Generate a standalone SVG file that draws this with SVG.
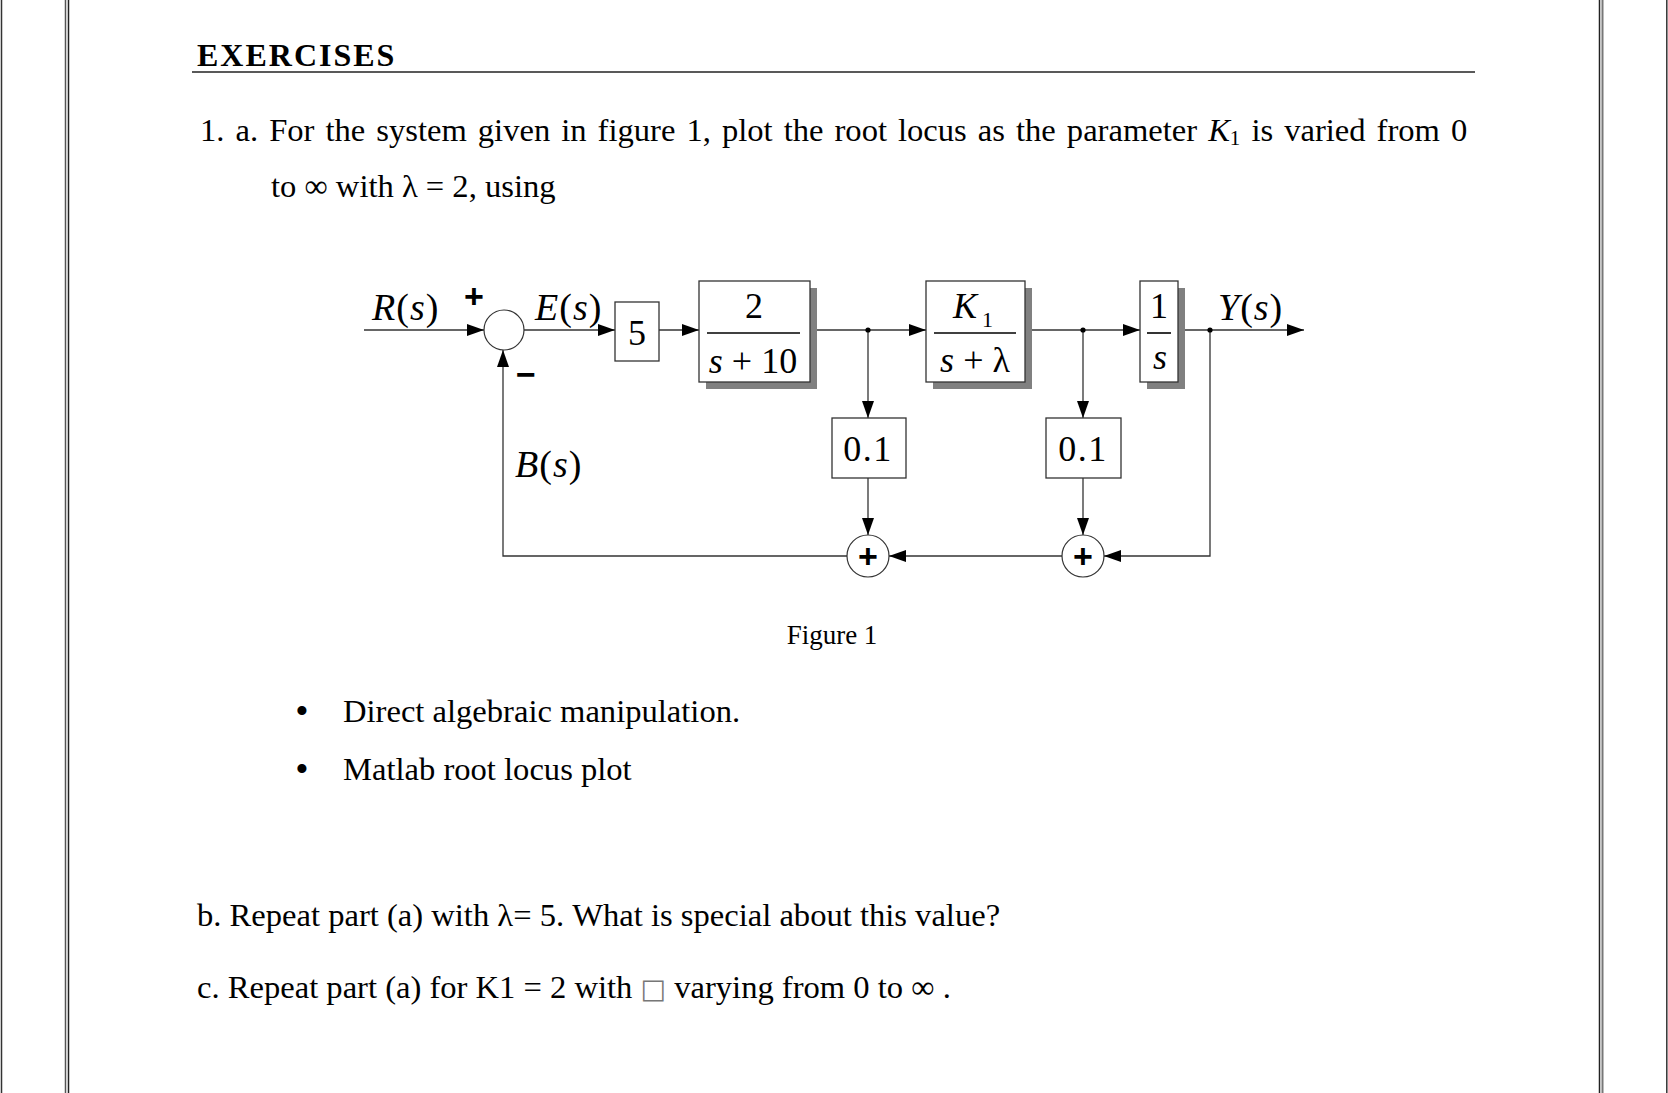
<svg xmlns="http://www.w3.org/2000/svg" width="1668" height="1093" viewBox="0 0 1668 1093">
<style>
.t{font-family:"Liberation Serif","Times New Roman",serif;fill:#000}
.body{font-size:32.6px}
.dg{font-family:"Liberation Serif","Times New Roman",serif;font-size:36px;fill:#000}
.it{font-style:italic}
.lab{font-family:"Liberation Serif","Times New Roman",serif;font-size:38px;fill:#000}
.sign{font-family:"Liberation Sans",Arial,sans-serif;font-size:34px;font-weight:bold;fill:#000}
.box{fill:#fff;stroke:#333;stroke-width:1.3}
.shadow{fill:#808080;stroke:none}
.bar{stroke:#000;stroke-width:1.6}
.ln{fill:none;stroke:#333;stroke-width:1.3}
.circ{fill:#fff;stroke:#333;stroke-width:1.2}
</style>
<defs>
<marker id="ah" markerUnits="userSpaceOnUse" markerWidth="17" markerHeight="12" refX="17" refY="6" orient="auto">
<path d="M0,0 L17,6 L0,12 z" fill="#000"/>
</marker>
</defs>
<rect x="0" y="0" width="1668" height="1093" fill="#fff"/>
<g id="page-border">
<line x1="1.5" y1="0" x2="1.5" y2="1093" stroke="#333" stroke-width="1.5"/>
<line x1="65.5" y1="0" x2="65.5" y2="1093" stroke="#555" stroke-width="1.5"/>
<line x1="68.5" y1="0" x2="68.5" y2="1093" stroke="#222" stroke-width="1.5"/>
<line x1="1599.5" y1="0" x2="1599.5" y2="1093" stroke="#222" stroke-width="1.5"/>
<line x1="1602.5" y1="0" x2="1602.5" y2="1093" stroke="#777" stroke-width="2"/>
<line x1="1666.8" y1="0" x2="1666.8" y2="1093" stroke="#333" stroke-width="1.5"/>
</g>
<g id="heading">
<text class="t" x="197" y="66" font-size="32" font-weight="bold" letter-spacing="2">EXERCISES</text>
<line x1="192" y1="72" x2="1475" y2="72" stroke="#222" stroke-width="1.5"/>
</g>
<g id="question-text">
<text class="t body" x="200" y="141" word-spacing="2.9">1. a. For the system given in figure 1, plot the root locus as the parameter <tspan font-style="italic">K</tspan><tspan font-size="21" dy="4">1</tspan><tspan dy="-4"> is varied from 0</tspan></text>
<text class="t body" x="271" y="197">to ∞ with λ = 2, using</text>
<text class="t" x="302" y="724" font-size="38" text-anchor="middle">•</text>
<text class="t body" x="343" y="722">Direct algebraic manipulation.</text>
<text class="t" x="302" y="782" font-size="38" text-anchor="middle">•</text>
<text class="t body" x="343" y="780">Matlab root locus plot</text>
<text class="t body" x="197" y="926">b. Repeat part (a) with λ= 5. What is special about this value?</text>
<text class="t body" x="197" y="998">c. Repeat part (a) for K1 = 2 with <tspan font-family="'DejaVu Sans',sans-serif" font-size="27" fill="#777">□</tspan> varying from 0 to ∞ .</text>
<text class="t" x="832" y="644" font-size="27" text-anchor="middle">Figure 1</text>
</g>
<g id="connectors">
<line class="ln" x1="364" y1="330" x2="484" y2="330" marker-end="url(#ah)"/>
<line class="ln" x1="524" y1="330" x2="615" y2="330" marker-end="url(#ah)"/>
<line class="ln" x1="659" y1="330" x2="699" y2="330" marker-end="url(#ah)"/>
<line class="ln" x1="810" y1="330" x2="926" y2="330" marker-end="url(#ah)"/>
<line class="ln" x1="1025" y1="330" x2="1140" y2="330" marker-end="url(#ah)"/>
<line class="ln" x1="1178" y1="330" x2="1304" y2="330" marker-end="url(#ah)"/>
<line class="ln" x1="868" y1="330" x2="868" y2="418" marker-end="url(#ah)"/>
<line class="ln" x1="1083" y1="330" x2="1083" y2="418" marker-end="url(#ah)"/>
<line class="ln" x1="868" y1="478" x2="868" y2="535" marker-end="url(#ah)"/>
<line class="ln" x1="1083" y1="478" x2="1083" y2="535" marker-end="url(#ah)"/>
<polyline class="ln" points="1210,330 1210,556 1104,556" marker-end="url(#ah)"/>
<line class="ln" x1="1062" y1="556" x2="889" y2="556" marker-end="url(#ah)"/>
<polyline class="ln" points="847,556 503,556 503,350" marker-end="url(#ah)"/>
<circle cx="868" cy="330" r="2.6" fill="#000"/>
<circle cx="1083" cy="330" r="2.6" fill="#000"/>
<circle cx="1210" cy="330" r="2.6" fill="#000"/>
</g>
<g id="signal-labels">
<text class="lab" x="372" y="320" letter-spacing="1"><tspan font-style="italic">R</tspan>(<tspan font-style="italic">s</tspan>)</text>
<text class="lab" x="535" y="320" letter-spacing="1"><tspan font-style="italic">E</tspan>(<tspan font-style="italic">s</tspan>)</text>
<text class="lab" x="1218" y="320" letter-spacing="1"><tspan font-style="italic">Y</tspan>(<tspan font-style="italic">s</tspan>)</text>
<text class="lab" x="515" y="477" letter-spacing="1"><tspan font-style="italic">B</tspan>(<tspan font-style="italic">s</tspan>)</text>
</g>
<g id="sum-main">
<circle class="circ" cx="504" cy="330" r="20"/>
<text class="sign" x="474" y="308" text-anchor="middle">+</text>
<text class="sign" x="526" y="386" text-anchor="middle">−</text>
</g>
<g id="gain-5">
<rect class="box" x="615" y="302" width="44" height="59"/>
<text class="dg" x="637" y="345" text-anchor="middle">5</text>
</g>
<g id="block-2-s10">
<rect class="shadow" x="706" y="288" width="111" height="101"/>
<rect class="box" x="699" y="281" width="111" height="101"/>
<text class="dg" x="754" y="318" text-anchor="middle">2</text>
<line class="bar" x1="707" y1="333" x2="800" y2="333"/>
<text class="dg" x="753" y="373" text-anchor="middle"><tspan font-style="italic">s</tspan> + 10</text>
</g>
<g id="block-K1">
<rect class="shadow" x="933" y="288" width="99" height="101"/>
<rect class="box" x="926" y="281" width="99" height="101"/>
<text class="dg" x="953" y="318"><tspan font-style="italic">K</tspan><tspan font-size="22" dx="5" dy="9">1</tspan></text>
<line class="bar" x1="934" y1="333" x2="1016" y2="333"/>
<text class="dg" x="975" y="372" text-anchor="middle"><tspan font-style="italic">s</tspan> + λ</text>
</g>
<g id="block-1-s">
<rect class="shadow" x="1147" y="288" width="38" height="101"/>
<rect class="box" x="1140" y="281" width="38" height="101"/>
<text class="dg" x="1159" y="318" text-anchor="middle">1</text>
<line class="bar" x1="1147" y1="333" x2="1171" y2="333"/>
<text class="dg it" x="1160" y="369" text-anchor="middle">s</text>
</g>
<g id="gain-01-a">
<rect class="box" x="832" y="418" width="74" height="60"/>
<text class="dg" x="868" y="461" text-anchor="middle" letter-spacing="1.5">0.1</text>
</g>
<g id="gain-01-b">
<rect class="box" x="1046" y="418" width="75" height="60"/>
<text class="dg" x="1083" y="461" text-anchor="middle" letter-spacing="1.5">0.1</text>
</g>
<g id="sum-left">
<circle class="circ" cx="868" cy="556" r="21"/>
<text class="sign" x="868" y="568" text-anchor="middle">+</text>
</g>
<g id="sum-right">
<circle class="circ" cx="1083" cy="556" r="21"/>
<text class="sign" x="1083" y="568" text-anchor="middle">+</text>
</g>
</svg>
